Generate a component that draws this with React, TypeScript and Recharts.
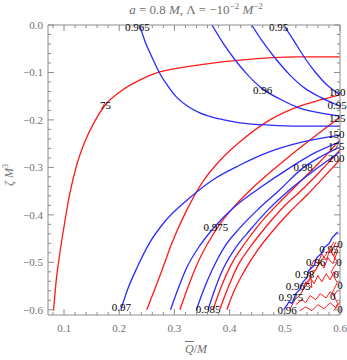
import { LineChart, Line, XAxis, YAxis, ReferenceDot } from 'recharts'

type Pt = [number, number]

const xTicks = [
  0.08, 0.1, 0.12, 0.14, 0.16, 0.18, 0.2, 0.22, 0.24, 0.26, 0.28, 0.3, 0.32,
  0.34, 0.36, 0.38, 0.4, 0.42, 0.44, 0.46, 0.48, 0.5, 0.52, 0.54, 0.56, 0.58,
  0.6,
]
const yTicks = [
  0, -0.02, -0.04, -0.06, -0.08, -0.1, -0.12, -0.14, -0.16, -0.18, -0.2,
  -0.22, -0.24, -0.26, -0.28, -0.3, -0.32, -0.34, -0.36, -0.38, -0.4, -0.42,
  -0.44, -0.46, -0.48, -0.5, -0.52, -0.54, -0.56, -0.58, -0.6,
]

// red contours
const red75: Pt[] = [
  [0.081, -0.602], [0.086, -0.537], [0.092, -0.484], [0.099, -0.432],
  [0.11, -0.358], [0.123, -0.295], [0.137, -0.248], [0.155, -0.204],
  [0.175, -0.168], [0.201, -0.141], [0.237, -0.116], [0.273, -0.099],
  [0.333, -0.086], [0.419, -0.074], [0.522, -0.067], [0.6, -0.067],
]
const red100: Pt[] = [
  [0.25, -0.6], [0.264, -0.558], [0.279, -0.512], [0.295, -0.461],
  [0.319, -0.398], [0.351, -0.331], [0.382, -0.286], [0.419, -0.246],
  [0.473, -0.2], [0.527, -0.171], [0.564, -0.158], [0.6, -0.147],
]
const red125: Pt[] = [
  [0.31, -0.6], [0.324, -0.554], [0.34, -0.507], [0.36, -0.461],
  [0.384, -0.417], [0.411, -0.379], [0.44, -0.345], [0.473, -0.311],
  [0.509, -0.276], [0.555, -0.234], [0.6, -0.194],
]
const red150: Pt[] = [
  [0.37, -0.6], [0.384, -0.554], [0.402, -0.507], [0.426, -0.463],
  [0.453, -0.421], [0.486, -0.379], [0.522, -0.337], [0.56, -0.293],
  [0.6, -0.242],
]
const red175: Pt[] = [
  [0.382, -0.6], [0.397, -0.554], [0.415, -0.507], [0.439, -0.465],
  [0.466, -0.425], [0.498, -0.383], [0.535, -0.343], [0.567, -0.305],
  [0.6, -0.263],
]
const red200: Pt[] = [
  [0.395, -0.6], [0.409, -0.558], [0.428, -0.516], [0.451, -0.474],
  [0.478, -0.434], [0.509, -0.394], [0.542, -0.356], [0.571, -0.32],
  [0.6, -0.284],
]

// blue contours
const blue965: Pt[] = [
  [0.237, 0], [0.246, -0.032], [0.259, -0.067], [0.273, -0.101],
  [0.288, -0.128], [0.304, -0.152], [0.324, -0.171], [0.346, -0.185],
  [0.382, -0.198], [0.419, -0.206], [0.473, -0.211], [0.527, -0.213],
  [0.6, -0.213],
]
const blue96: Pt[] = [
  [0.368, 0], [0.387, -0.036], [0.407, -0.069], [0.431, -0.103],
  [0.458, -0.133], [0.491, -0.156], [0.527, -0.175], [0.564, -0.185],
  [0.6, -0.192],
]
const blue955: Pt[] = [
  [0.44, 0], [0.458, -0.032], [0.482, -0.069], [0.509, -0.105],
  [0.536, -0.133], [0.564, -0.152], [0.6, -0.171],
]
const blue95: Pt[] = [
  [0.498, 0], [0.518, -0.036], [0.536, -0.069], [0.555, -0.099],
  [0.576, -0.126], [0.6, -0.147],
]
const blue97: Pt[] = [
  [0.203, -0.6], [0.215, -0.558], [0.232, -0.512], [0.255, -0.459],
  [0.282, -0.415], [0.328, -0.364], [0.37, -0.326], [0.419, -0.295],
  [0.473, -0.267], [0.527, -0.248], [0.6, -0.232],
]
const blue975: Pt[] = [
  [0.293, -0.6], [0.306, -0.558], [0.322, -0.512], [0.346, -0.465],
  [0.373, -0.425], [0.409, -0.383], [0.455, -0.343], [0.509, -0.301],
  [0.555, -0.269], [0.6, -0.246],
]
const blue98: Pt[] = [
  [0.34, -0.6], [0.353, -0.558], [0.37, -0.512], [0.391, -0.467],
  [0.419, -0.427], [0.451, -0.389], [0.491, -0.347], [0.533, -0.301],
  [0.564, -0.278], [0.6, -0.257],
]
const blue985: Pt[] = [
  [0.361, -0.6], [0.373, -0.558], [0.389, -0.512], [0.411, -0.469],
  [0.437, -0.432], [0.47, -0.389], [0.509, -0.347], [0.555, -0.305],
  [0.6, -0.267],
]

// numerically noisy corner
const blueNoise: Pt[] = [
  [0.498, -0.6], [0.508, -0.583], [0.513, -0.587], [0.52, -0.566],
  [0.527, -0.558], [0.533, -0.541], [0.54, -0.533], [0.544, -0.516],
  [0.553, -0.507], [0.558, -0.49], [0.566, -0.482], [0.571, -0.469],
  [0.58, -0.461], [0.586, -0.448], [0.596, -0.436],
]
const redNoise1: Pt[] = [
  [0.52, -0.589], [0.531, -0.579], [0.538, -0.585], [0.546, -0.57],
  [0.556, -0.579], [0.564, -0.566], [0.575, -0.575], [0.582, -0.562],
  [0.589, -0.57], [0.596, -0.558],
]
const redNoise2: Pt[] = [
  [0.527, -0.602], [0.538, -0.594], [0.549, -0.602], [0.56, -0.589],
  [0.571, -0.598], [0.582, -0.585], [0.593, -0.596], [0.6, -0.583],
]
const redNoise3: Pt[] = [
  [0.536, -0.547], [0.546, -0.533], [0.553, -0.545], [0.56, -0.528],
  [0.567, -0.541], [0.575, -0.524], [0.582, -0.537], [0.589, -0.52],
  [0.596, -0.528],
]
const redNoise4: Pt[] = [
  [0.546, -0.512], [0.553, -0.495], [0.56, -0.503], [0.567, -0.482],
  [0.575, -0.495], [0.582, -0.474], [0.589, -0.486], [0.596, -0.465],
]
const redNoise5: Pt[] = [
  [0.531, -0.562], [0.538, -0.541], [0.549, -0.554], [0.546, -0.52],
  [0.556, -0.516], [0.564, -0.499], [0.571, -0.512], [0.578, -0.49],
  [0.587, -0.503], [0.595, -0.478],
]
const redNoise6: Pt[] = [
  [0.593, -0.457], [0.584, -0.478], [0.595, -0.499], [0.584, -0.52],
  [0.595, -0.543], [0.586, -0.564], [0.596, -0.587], [0.589, -0.602],
]
const redNoise7: Pt[] = [
  [0.509, -0.6], [0.518, -0.579], [0.527, -0.57], [0.535, -0.554],
  [0.542, -0.543], [0.549, -0.528], [0.556, -0.516], [0.564, -0.499],
  [0.573, -0.486], [0.58, -0.474], [0.589, -0.457],
]

const labelText = [
  '0.965', '0.95', '0.96', '75', '100', '0.95', '125', '150', '175', '200',
  '0.98', '0.975', '0.97', '0.985',
  '0.95', '0.96', '0.98', '0.965', '0.975', '0.96',
  '0', '0', '0', '0', '0', '0',
]
const labelX = [
  0.233, 0.489, 0.46, 0.175, 0.595, 0.595, 0.595, 0.593, 0.593, 0.593,
  0.533, 0.375, 0.204, 0.361,
  0.58, 0.556, 0.536, 0.524, 0.511, 0.504,
  0.6, 0.598, 0.593, 0.6, 0.587, 0.6,
]
const labelY = [
  -0.004, -0.004, -0.137, -0.168, -0.142, -0.168, -0.196, -0.229, -0.255,
  -0.28, -0.299, -0.425, -0.594, -0.598,
  -0.472, -0.499, -0.524, -0.55, -0.573, -0.6,
  -0.462, -0.499, -0.524, -0.547, -0.57, -0.598,
]

const RED = '#ff1a1a'
const BLUE = '#2a2aff'
const FRAME = '#8c8c8c'
const TEXT = '#707070'
const SERIF = '"Liberation Serif", "DejaVu Serif", serif'

const redCurves = [red75, red100, red125, red150, red175, red200]
const blueCurves = [blue965, blue96, blue955, blue95, blue97, blue975, blue98, blue985]
const noiseCurves = [redNoise1, redNoise2, redNoise3, redNoise4, redNoise5, redNoise6, redNoise7]

const toRows = (pts: Pt[]) => pts.map(([x, y]) => ({ x, y }))
const isMajor = (v: number) => Math.abs(v * 10 - Math.round(v * 10)) < 1e-6
const fmt = (v: number) => {
  const s = Math.abs(v).toFixed(1)
  return v < -1e-9 ? '\u2212' + s : s
}

function BottomTick({ x, y, payload }: any) {
  const major = isMajor(payload.value)
  return (
    <g>
      <line x1={x} x2={x} y1={y} y2={y - (major ? 6 : 3)} stroke={FRAME} />
      {major && (
        <text x={x} y={y + 17} textAnchor="middle" fill={TEXT} fontSize={11} fontFamily={SERIF}>
          {fmt(payload.value)}
        </text>
      )}
    </g>
  )
}

function TopTick({ x, y, payload }: any) {
  const major = isMajor(payload.value)
  return <line x1={x} x2={x} y1={y} y2={y + (major ? 6 : 3)} stroke={FRAME} />
}

function LeftTick({ x, y, payload }: any) {
  const major = isMajor(payload.value)
  return (
    <g>
      <line x1={x} x2={x + (major ? 6 : 3)} y1={y} y2={y} stroke={FRAME} />
      {major && (
        <text x={x - 5} y={y + 4} textAnchor="end" fill={TEXT} fontSize={11} fontFamily={SERIF}>
          {fmt(payload.value)}
        </text>
      )}
    </g>
  )
}

function RightTick({ x, y, payload }: any) {
  const major = isMajor(payload.value)
  return <line x1={x} x2={x - (major ? 6 : 3)} y1={y} y2={y} stroke={FRAME} />
}

export default function App() {
  return (
    <div style={{ position: 'absolute', left: 0, top: 0, width: 347, height: 360, background: '#fff' }}>
      <div
        style={{
          position: 'absolute',
          left: 196,
          top: 1,
          transform: 'translateX(-50%)',
          whiteSpace: 'nowrap',
          fontFamily: SERIF,
          fontSize: 13,
          color: TEXT,
        }}
      >
        <i>a</i> = 0.8 <i>M</i>, Λ = −10<sup style={{ fontSize: 9 }}>−2</sup> <i>M</i>
        <sup style={{ fontSize: 9 }}>−2</sup>
      </div>
      <LineChart width={347} height={360} margin={{ top: 5, right: 0, bottom: 0, left: 0 }}>
        <XAxis
          dataKey="x"
          type="number"
          domain={[0.071, 0.6]}
          allowDataOverflow
          ticks={xTicks}
          interval={0}
          height={45}
          tickSize={0}
          tickMargin={0}
          tickLine={false}
          axisLine={{ stroke: FRAME }}
          tick={<BottomTick />}
        />
        <XAxis
          xAxisId="top"
          orientation="top"
          dataKey="x"
          type="number"
          domain={[0.071, 0.6]}
          allowDataOverflow
          ticks={xTicks}
          interval={0}
          height={20}
          tickSize={0}
          tickMargin={0}
          tickLine={false}
          axisLine={{ stroke: FRAME }}
          tick={<TopTick />}
        />
        <YAxis
          type="number"
          domain={[-0.611, 0]}
          allowDataOverflow
          ticks={yTicks}
          interval={0}
          width={48}
          tickSize={0}
          tickMargin={0}
          tickLine={false}
          axisLine={{ stroke: FRAME }}
          tick={<LeftTick />}
        />
        <YAxis
          yAxisId="right"
          orientation="right"
          type="number"
          domain={[-0.611, 0]}
          allowDataOverflow
          ticks={yTicks}
          interval={0}
          width={7}
          tickSize={0}
          tickMargin={0}
          tickLine={false}
          axisLine={{ stroke: FRAME }}
          tick={<RightTick />}
        />
        <Line
          xAxisId="top"
          yAxisId="right"
          data={[{ x: 0.071, y: -0.611 }, { x: 0.6, y: 0 }]}
          dataKey="y"
          stroke="none"
          dot={false}
          isAnimationActive={false}
        />
        {noiseCurves.map((c, i) => (
          <Line
            key={`n${i}`}
            data={toRows(c)}
            dataKey="y"
            type="linear"
            stroke={RED}
            strokeWidth={1}
            dot={false}
            isAnimationActive={false}
          />
        ))}
        <Line
          data={toRows(blueNoise)}
          dataKey="y"
          type="linear"
          stroke={BLUE}
          strokeWidth={1.3}
          dot={false}
          isAnimationActive={false}
        />
        {redCurves.map((c, i) => (
          <Line
            key={`r${i}`}
            data={toRows(c)}
            dataKey="y"
            type="monotone"
            stroke={RED}
            strokeWidth={1.3}
            dot={false}
            isAnimationActive={false}
          />
        ))}
        {blueCurves.map((c, i) => (
          <Line
            key={`b${i}`}
            data={toRows(c)}
            dataKey="y"
            type="monotone"
            stroke={BLUE}
            strokeWidth={1.3}
            dot={false}
            isAnimationActive={false}
          />
        ))}
        {labelText.map((t, i) => (
          <ReferenceDot
            key={`l${i}`}
            x={labelX[i]}
            y={labelY[i]}
            r={0}
            ifOverflow="visible"
            shape={(p: any) => (
              <text
                x={p.cx}
                y={p.cy}
                textAnchor="middle"
                dominantBaseline="central"
                fontSize={11}
                fontFamily={SERIF}
                fill="#000"
              >
                {t}
              </text>
            )}
          />
        ))}
      </LineChart>
      <div
        style={{
          position: 'absolute',
          left: 9,
          top: 175,
          transform: 'translate(-50%, -50%) rotate(-90deg)',
          whiteSpace: 'nowrap',
          fontFamily: SERIF,
          fontSize: 12,
          color: TEXT,
        }}
      >
        <i>ζ M</i>
        <sup style={{ fontSize: 8 }}>3</sup>
      </div>
      <div
        style={{
          position: 'absolute',
          left: 196,
          top: 340,
          transform: 'translateX(-50%)',
          whiteSpace: 'nowrap',
          fontFamily: SERIF,
          fontSize: 12,
          lineHeight: '18px',
          color: TEXT,
        }}
      >
        <i style={{ textDecoration: 'overline' }}>Q</i>/<i>M</i>
      </div>
    </div>
  )
}
